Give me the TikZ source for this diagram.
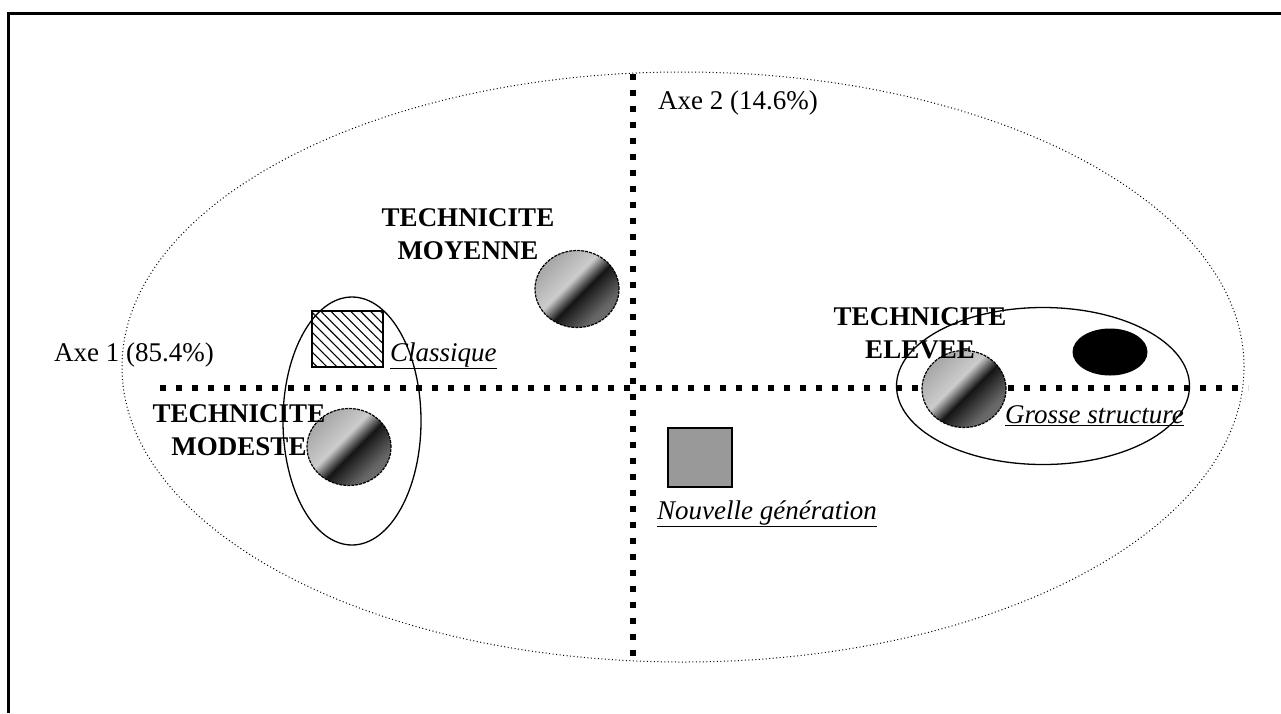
\documentclass[tikz,border=0pt]{standalone}
\usepackage{fontspec}
\setmainfont{Liberation Serif}
\usetikzlibrary{shapes.geometric,patterns.meta}
\pgfdeclareverticalshading{sphshade}{100bp}{color(0bp)=(black!45); color(30bp)=(black!60); color(46bp)=(black!92); color(56bp)=(black!20); color(75bp)=(black!35); color(100bp)=(black!55)}
\tikzset{
  lbl/.style={font=\fontsize{27}{33}\selectfont, inner sep=0pt},
  blbl/.style={font=\fontsize{27}{33}\selectfont\bfseries, align=center, inner sep=0pt},
  ilbl/.style={font=\fontsize{27}{33}\selectfont\itshape, inner sep=0pt},
  axisdot/.style={line width=5.5pt, dash pattern=on 5.5pt off 10.5pt},
  bigell/.style={ellipse, draw, line width=1pt, dash pattern=on 1pt off 2.5pt, inner sep=0pt},
  grpell/.style={ellipse, draw, line width=1.3pt, inner sep=0pt},
  sphere/.style={ellipse, draw, line width=1.2pt, dash pattern=on 3pt off 1pt, shading=sphshade, shading angle=45, minimum width=84pt, minimum height=77pt, inner sep=0pt},
}
\begin{document}
\begin{tikzpicture}[x=1pt,y=-1pt]
\useasboundingbox (0,0) rectangle (1281,713);
% frame
\coordinate (fbl) at (8.5,713);
\coordinate (ftl) at (8.5,13.5);
\coordinate (ftr) at (1281,13.5);
\draw[line width=3pt] (fbl) -- (ftl) -- (ftr);
% big ellipse
\node[bigell, minimum width=1122pt, minimum height=590pt] (big) at (683,367) {};
% group ellipses
\node[grpell, minimum width=138pt, minimum height=248pt] (gleft) at (352,421) {};
\node[grpell, minimum width=293pt, minimum height=157pt] (gright) at (1043,386) {};
% axes
\coordinate (hx1) at (160,388);
\coordinate (hx2) at (1248,388);
\coordinate (vy1) at (633,74);
\coordinate (vy2) at (633,662);
\draw[axisdot] (hx1) -- (hx2);
\draw[axisdot] (vy1) -- (vy2);
% hatched rectangle
\node[draw, line width=1.5pt, minimum width=71pt, minimum height=56pt, inner sep=0pt,
  pattern={Lines[angle=-45,distance=7pt,line width=1.1pt]}] (classrect) at (347.5,339) {};
% gray square
\node[draw, line width=1.5pt, fill=gray!80!white, minimum width=64pt, minimum height=59pt, inner sep=0pt] (nouvsq) at (700,457.5) {};
% spheres
\node[sphere] (smod) at (349,447) {};
\node[sphere] (smoy) at (577,289) {};
\node[sphere] (selev) at (964,389) {};
% black ellipse
\node[ellipse, fill=black, minimum width=75pt, minimum height=47pt, inner sep=0pt] (blk) at (1110,352) {};
% labels
\node[lbl] (ax2) at (738,103) {Axe 2 (14.6\%)};
\node[lbl] (ax1) at (134,355) {Axe 1 (85.4\%)};
\node[blbl] (tmoy) at (468,234) {TECHNICITE\\MOYENNE};
\node[blbl] (tmod) at (239,430) {TECHNICITE\\MODESTE};
\node[blbl] (telev) at (920,333) {TECHNICITE\\ELEVEE};
\node[ilbl, anchor=west] (tclass) at (390,356) {\underline{Classique}};
\node[ilbl, anchor=west] (tgros) at (1005,416) {\underline{Grosse structure}};
\node[ilbl, anchor=west] (tnouv) at (657,514) {\underline{Nouvelle génération}};
\end{tikzpicture}
\end{document}
